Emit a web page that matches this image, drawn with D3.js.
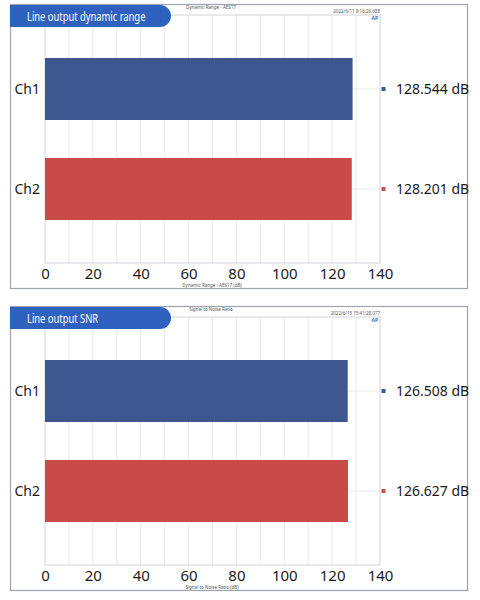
<!DOCTYPE html>
<html><head><meta charset="utf-8">
<script src="https://cdn.jsdelivr.net/npm/d3@7"></script>
<style>body{margin:0;background:#fff}svg{display:block}</style>
</head><body>
<svg id="c" width="480" height="600"></svg>
<script>
const categories = ["Ch1", "Ch2"];
const dynamicRange = [128.544, 128.201];
const snr = [126.508, 126.627];
const xTicks = [0, 20, 40, 60, 80, 100, 120, 140];
const titles = ["Line output dynamic range", "Line output SNR"];
const headers = ["Dynamic Range - AES17", "Signal to Noise Ratio"];
const dates = ["2022/6/11 9:16:26.688", "2022/6/15 15:41:28.077"];
const axisTitles = ["Dynamic Range - AES17 (dB)", "Signal to Noise Ratio (dB)"];
const colors = ["#3f578f", "#c94b48"];

const svg = d3.select("#c");
const font = "'Noto Sans', 'Open Sans', sans-serif";

function panel(i, values, top) {
  const g = svg.append("g");
  const plotTop = top + 10, plotBot = top + 258;
  const x = d3.scaleLinear().domain([0, 140]).range([45, 380]);
  const y = d3.scaleBand().domain(categories).range([plotTop, plotBot]).paddingInner(0.38).paddingOuter(0.43);

  g.append("rect").attr("x", 10.5).attr("y", top - 0.5).attr("width", 457).attr("height", 284)
    .attr("fill", "none").attr("stroke", "#9ea4ad").attr("stroke-width", 1.2);

  g.selectAll(".vg").data(d3.range(10, 140, 10)).join("line")
    .attr("x1", d => x(d)).attr("x2", d => x(d)).attr("y1", plotTop).attr("y2", plotBot)
    .attr("stroke", "#e6e8eb").attr("stroke-width", 1);
  g.selectAll(".hg").data(categories).join("line")
    .attr("x1", x(0)).attr("x2", x(140))
    .attr("y1", d => y(d) + y.bandwidth() / 2).attr("y2", d => y(d) + y.bandwidth() / 2)
    .attr("stroke", "#e6e8eb");
  g.append("rect").attr("x", x(0)).attr("y", plotTop).attr("width", x(140) - x(0)).attr("height", plotBot - plotTop)
    .attr("fill", "none").attr("stroke", "#cfd3d8").attr("stroke-width", 1);

  g.selectAll(".bar").data(values).join("rect")
    .attr("x", x(0)).attr("y", (d, j) => y(categories[j]))
    .attr("width", d => x(d) - x(0)).attr("height", y.bandwidth())
    .attr("fill", (d, j) => colors[j]);

  g.selectAll(".cl").data(categories).join("text")
    .attr("x", 40).attr("y", d => y(d) + y.bandwidth() / 2 + 5)
    .attr("text-anchor", "end").attr("font-family", font).attr("font-size", 14).attr("fill", "#1a1a1a")
    .text(d => d);

  g.selectAll(".lm").data(values).join("rect")
    .attr("x", 381.5).attr("y", (d, j) => y(categories[j]) + y.bandwidth() / 2 - 2)
    .attr("width", 4).attr("height", 4).attr("fill", (d, j) => colors[j]);
  g.selectAll(".lv").data(values).join("text")
    .attr("x", 396).attr("y", (d, j) => y(categories[j]) + y.bandwidth() / 2 + 5)
    .attr("font-family", font).attr("font-size", 14).attr("fill", "#1a1a1a")
    .text(d => d.toFixed(3) + " dB");

  const ax = g.append("g").attr("transform", `translate(0,${plotBot})`)
    .call(d3.axisBottom(x).tickValues(xTicks).tickSize(0).tickPadding(5));
  ax.select(".domain").remove();
  ax.selectAll("text").attr("font-family", font).attr("font-size", 15).attr("fill", "#1a1a1a").attr("dy", "0.71em");

  g.append("text").attr("x", 212).attr("y", plotBot + 24).attr("text-anchor", "middle")
    .attr("font-family", font).attr("font-size", 4.5).attr("fill", "#555").text(axisTitles[i]);

  g.append("text").attr("x", 211).attr("y", top + 3.5).attr("text-anchor", "middle")
    .attr("font-family", font).attr("font-size", 4.5).attr("fill", "#555").text(headers[i]);
  g.append("text").attr("x", 380).attr("y", top + 8).attr("text-anchor", "end")
    .attr("font-family", font).attr("font-size", 4.5).attr("fill", "#555").text(dates[i]);
  g.append("text").attr("x", 378).attr("y", top + 15).attr("text-anchor", "end")
    .attr("font-family", font).attr("font-size", 5).attr("font-weight", "bold").attr("fill", "#4a6fb5").text("AP");

  const tx = 10, ty = top, tw = 161, th = 22, r = 11;
  g.append("path")
    .attr("d", `M${tx},${ty} H${tx + tw - r} A${r},${r} 0 0 1 ${tx + tw},${ty + r} A${r},${r} 0 0 1 ${tx + tw - r},${ty + th} H${tx} Z`)
    .attr("fill", "#2f62be");
  const t = g.append("text").attr("x", 27).attr("y", ty + 15.5)
    .attr("font-family", font).attr("font-size", 12).attr("fill", "#fff").text(titles[i]);
  const w = t.node().getComputedTextLength();
  t.attr("textLength", w * 0.78).attr("lengthAdjust", "spacingAndGlyphs");
}

panel(0, dynamicRange, 5);
panel(1, snr, 307);
</script>
</body></html>
